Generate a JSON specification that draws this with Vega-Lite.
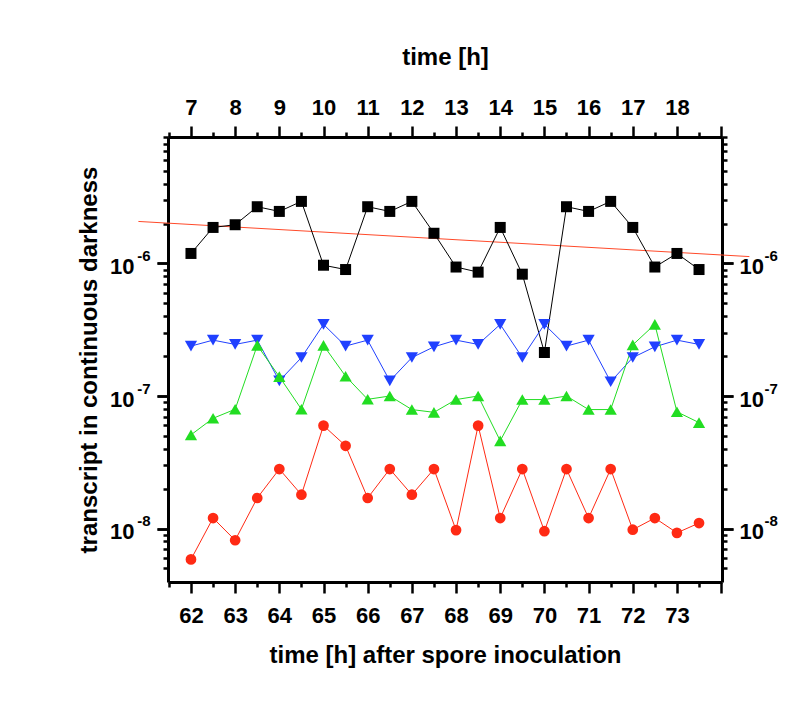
{
  "$schema": "https://vega.github.io/schema/vega-lite/v6.json",
  "autosize": {"type": "none"},
  "padding": {"left": 168, "top": 137, "right": 88, "bottom": 124},
  "width": 554,
  "height": 445,
  "background": "white",
  "datasets": {
    "black": [
      {"t": 62, "v": 1.19e-6}, {"t": 62.5, "v": 1.87e-6}, {"t": 63, "v": 1.96e-6}, {"t": 63.5, "v": 2.68e-6},
      {"t": 64, "v": 2.47e-6}, {"t": 64.5, "v": 2.94e-6}, {"t": 65, "v": 9.7e-7}, {"t": 65.5, "v": 9.0e-7},
      {"t": 66, "v": 2.68e-6}, {"t": 66.5, "v": 2.47e-6}, {"t": 67, "v": 2.94e-6}, {"t": 67.5, "v": 1.69e-6},
      {"t": 68, "v": 9.4e-7}, {"t": 68.5, "v": 8.6e-7}, {"t": 69, "v": 1.87e-6}, {"t": 69.5, "v": 8.3e-7},
      {"t": 70, "v": 2.13e-7}, {"t": 70.5, "v": 2.68e-6}, {"t": 71, "v": 2.47e-6}, {"t": 71.5, "v": 2.94e-6},
      {"t": 72, "v": 1.87e-6}, {"t": 72.5, "v": 9.4e-7}, {"t": 73, "v": 1.19e-6}, {"t": 73.5, "v": 9.0e-7}
    ],
    "blue": [
      {"t": 62, "v": 2.38e-7}, {"t": 62.5, "v": 2.64e-7}, {"t": 63, "v": 2.45e-7}, {"t": 63.5, "v": 2.64e-7},
      {"t": 64, "v": 1.30e-7}, {"t": 64.5, "v": 1.95e-7}, {"t": 65, "v": 3.47e-7}, {"t": 65.5, "v": 2.38e-7},
      {"t": 66, "v": 2.64e-7}, {"t": 66.5, "v": 1.30e-7}, {"t": 67, "v": 1.95e-7}, {"t": 67.5, "v": 2.35e-7},
      {"t": 68, "v": 2.64e-7}, {"t": 68.5, "v": 2.45e-7}, {"t": 69, "v": 3.47e-7}, {"t": 69.5, "v": 1.95e-7},
      {"t": 70, "v": 3.47e-7}, {"t": 70.5, "v": 2.38e-7}, {"t": 71, "v": 2.64e-7}, {"t": 71.5, "v": 1.28e-7},
      {"t": 72, "v": 1.95e-7}, {"t": 72.5, "v": 2.35e-7}, {"t": 73, "v": 2.64e-7}, {"t": 73.5, "v": 2.45e-7}
    ],
    "green": [
      {"t": 62, "v": 5.09e-8}, {"t": 62.5, "v": 6.79e-8}, {"t": 63, "v": 7.94e-8}, {"t": 63.5, "v": 2.41e-7},
      {"t": 64, "v": 1.40e-7}, {"t": 64.5, "v": 7.94e-8}, {"t": 65, "v": 2.41e-7}, {"t": 65.5, "v": 1.41e-7},
      {"t": 66, "v": 9.44e-8}, {"t": 66.5, "v": 1.0e-7}, {"t": 67, "v": 7.9e-8}, {"t": 67.5, "v": 7.53e-8},
      {"t": 68, "v": 9.4e-8}, {"t": 68.5, "v": 1.0e-7}, {"t": 69, "v": 4.59e-8}, {"t": 69.5, "v": 9.4e-8},
      {"t": 70, "v": 9.4e-8}, {"t": 70.5, "v": 1.0e-7}, {"t": 71, "v": 7.9e-8}, {"t": 71.5, "v": 7.9e-8},
      {"t": 72, "v": 2.43e-7}, {"t": 72.5, "v": 3.47e-7}, {"t": 73, "v": 7.6e-8}, {"t": 73.5, "v": 6.3e-8}
    ],
    "red": [
      {"t": 62, "v": 5.85e-9}, {"t": 62.5, "v": 1.2e-8}, {"t": 63, "v": 8.16e-9}, {"t": 63.5, "v": 1.7e-8},
      {"t": 64, "v": 2.81e-8}, {"t": 64.5, "v": 1.8e-8}, {"t": 65, "v": 5.98e-8}, {"t": 65.5, "v": 4.21e-8},
      {"t": 66, "v": 1.7e-8}, {"t": 66.5, "v": 2.81e-8}, {"t": 67, "v": 1.8e-8}, {"t": 67.5, "v": 2.81e-8},
      {"t": 68, "v": 9.73e-9}, {"t": 68.5, "v": 5.98e-8}, {"t": 69, "v": 1.2e-8}, {"t": 69.5, "v": 2.81e-8},
      {"t": 70, "v": 9.55e-9}, {"t": 70.5, "v": 2.81e-8}, {"t": 71, "v": 1.2e-8}, {"t": 71.5, "v": 2.81e-8},
      {"t": 72, "v": 9.8e-9}, {"t": 72.5, "v": 1.2e-8}, {"t": 73, "v": 9.28e-9}, {"t": 73.5, "v": 1.1e-8}
    ],
    "trend": [
      {"t": 60.81, "v": 2.075e-6}, {"t": 74.64, "v": 1.127e-6}
    ]
  },
  "resolve": {"axis": {"x": "independent", "y": "independent"}},
  "layer": [
    {
      "data": {"name": "trend"},
      "mark": {"type": "line", "color": "#ff4a2a", "strokeWidth": 1, "clip": false},
      "encoding": {
        "x": {"field": "t", "type": "quantitative", "scale": {"domain": [61.48, 74.02], "nice": false, "zero": false},
          "axis": {"orient": "bottom", "values": [62, 63, 64, 65, 66, 67, 68, 69, 70, 71, 72, 73, 74],
            "labelExpr": "datum.value == 74 ? '' : datum.label", "title": "time [h] after spore inoculation",
            "tickSize": 11, "labelPadding": 12, "titlePadding": 17}},
        "y": {"field": "v", "type": "quantitative", "scale": {"type": "log", "domain": [3.95e-9, 9.0e-6], "nice": false},
          "axis": {"orient": "left", "values": [1e-8, 1e-7, 1e-6], "labelExpr": "'10'",
            "title": "transcript in continuous darkness", "tickSize": 11, "labelPadding": 23,
            "labelOffset": 3, "titlePadding": 8}}
      }
    },
    {
      "data": {"name": "black"},
      "mark": {"type": "line", "color": "black", "strokeWidth": 1},
      "encoding": {
        "x": {"field": "t", "type": "quantitative",
          "axis": {"orient": "bottom", "values": [61.5, 62.5, 63.5, 64.5, 65.5, 66.5, 67.5, 68.5, 69.5, 70.5, 71.5, 72.5, 73.5],
            "labels": false, "domain": false, "tickSize": 5, "title": null}},
        "y": {"field": "v", "type": "quantitative",
          "axis": {"orient": "left", "values": [1e-8, 1e-7, 1e-6],
            "labelExpr": "'-' + round(-log(datum.value) / LN10)", "labelFontSize": 15,
            "domain": false, "tickSize": 11, "labelPadding": 7, "labelOffset": -8, "title": null}}
      }
    },
    {
      "data": {"name": "blue"},
      "mark": {"type": "line", "color": "#2040ff", "strokeWidth": 1},
      "encoding": {
        "x": {"field": "t", "type": "quantitative",
          "axis": {"orient": "top", "values": [62, 63, 64, 65, 66, 67, 68, 69, 70, 71, 72, 73, 74],
            "labelExpr": "datum.value == 74 ? '' : format(datum.value - 55, 'd')", "title": "time [h]",
            "tickSize": 11, "labelPadding": 7, "titlePadding": 27}},
        "y": {"field": "v", "type": "quantitative",
          "axis": {"orient": "left", "values": [5e-9, 6e-9, 7e-9, 8e-9, 9e-9, 2e-8, 3e-8, 4e-8, 5e-8, 6e-8, 7e-8, 8e-8, 9e-8, 2e-7, 3e-7, 4e-7, 5e-7, 6e-7, 7e-7, 8e-7, 9e-7, 2e-6, 3e-6, 4e-6, 5e-6, 6e-6, 7e-6, 8e-6, 9e-6],
            "labels": false, "domain": false, "tickSize": 5, "title": null}}
      }
    },
    {
      "data": {"name": "green"},
      "mark": {"type": "line", "color": "#22dd22", "strokeWidth": 1},
      "encoding": {
        "x": {"field": "t", "type": "quantitative",
          "axis": {"orient": "top", "values": [61.5, 62.5, 63.5, 64.5, 65.5, 66.5, 67.5, 68.5, 69.5, 70.5, 71.5, 72.5, 73.5],
            "labels": false, "domain": false, "tickSize": 5, "title": null}},
        "y": {"field": "v", "type": "quantitative",
          "axis": {"orient": "right", "values": [1e-8, 1e-7, 1e-6], "labelExpr": "'10'",
            "tickSize": 11, "labelPadding": 6, "labelOffset": 3, "title": null}}
      }
    },
    {
      "data": {"name": "red"},
      "mark": {"type": "line", "color": "#ff2a14", "strokeWidth": 1},
      "encoding": {
        "x": {"field": "t", "type": "quantitative", "axis": null},
        "y": {"field": "v", "type": "quantitative",
          "axis": {"orient": "right", "values": [1e-8, 1e-7, 1e-6],
            "labelExpr": "'-' + round(-log(datum.value) / LN10)", "labelFontSize": 15,
            "domain": false, "tickSize": 11, "labelPadding": 31, "labelOffset": -8, "title": null}}
      }
    },
    {
      "data": {"name": "black"},
      "mark": {"type": "point", "shape": "square", "filled": true, "color": "black", "size": 121, "opacity": 1},
      "encoding": {
        "x": {"field": "t", "type": "quantitative", "axis": null},
        "y": {"field": "v", "type": "quantitative",
          "axis": {"orient": "right", "values": [5e-9, 6e-9, 7e-9, 8e-9, 9e-9, 2e-8, 3e-8, 4e-8, 5e-8, 6e-8, 7e-8, 8e-8, 9e-8, 2e-7, 3e-7, 4e-7, 5e-7, 6e-7, 7e-7, 8e-7, 9e-7, 2e-6, 3e-6, 4e-6, 5e-6, 6e-6, 7e-6, 8e-6, 9e-6],
            "labels": false, "domain": false, "tickSize": 5, "title": null}}
      }
    },
    {
      "data": {"name": "blue"},
      "mark": {"type": "point", "shape": "triangle-down", "filled": true, "color": "#2040ff", "size": 150, "opacity": 1},
      "encoding": {
        "x": {"field": "t", "type": "quantitative", "axis": null},
        "y": {"field": "v", "type": "quantitative", "axis": null}
      }
    },
    {
      "data": {"name": "green"},
      "mark": {"type": "point", "shape": "triangle-up", "filled": true, "color": "#22dd22", "size": 150, "opacity": 1},
      "encoding": {
        "x": {"field": "t", "type": "quantitative", "axis": null},
        "y": {"field": "v", "type": "quantitative", "axis": null}
      }
    },
    {
      "data": {"name": "red"},
      "mark": {"type": "point", "shape": "circle", "filled": true, "color": "#ff2a14", "size": 115, "opacity": 1},
      "encoding": {
        "x": {"field": "t", "type": "quantitative", "axis": null},
        "y": {"field": "v", "type": "quantitative", "axis": null}
      }
    }
  ],
  "config": {
    "view": {"stroke": null},
    "axis": {
      "grid": false,
      "domainColor": "black", "domainWidth": 3,
      "tickColor": "black", "tickWidth": 2.5,
      "labelColor": "black", "titleColor": "black",
      "labelFont": "Liberation Sans", "titleFont": "Liberation Sans",
      "labelFontWeight": "bold", "titleFontWeight": "bold",
      "labelFontSize": 22, "titleFontSize": 24,
      "labelFlush": false, "labelOverlap": false
    }
  }
}
